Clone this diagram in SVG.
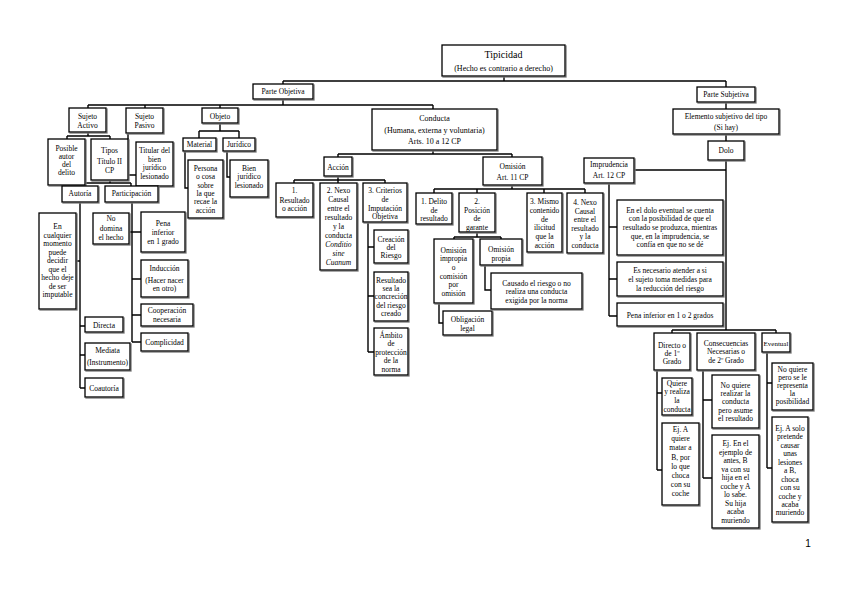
<svg xmlns="http://www.w3.org/2000/svg" width="848" height="599" viewBox="0 0 848 599">
<defs>
<filter id="sh" filterUnits="userSpaceOnUse" x="0" y="0" width="848" height="599"><feDropShadow dx="1" dy="1" stdDeviation="0.3" flood-color="#777"/></filter>
<style>
.b{fill:#fff;stroke:#000;stroke-width:1.3;filter:url(#sh)}
.t{font-family:"Liberation Serif","Times New Roman",serif;font-size:7.5px;text-anchor:middle;fill:#000}
.i{font-style:italic}
.c{fill:none;stroke:#000;stroke-width:1.4}
</style>
</defs>
<rect width="848" height="599" fill="#fff"/>
<g id="connectors" class="c">
<path d="M504,76V81M283,81H726M283,81V84M726,81V87"/>
<path d="M283,99V105M88,105H433M88,105V108M145,105V108M220,105V108M433,105V109"/>
<path d="M88,132V136M67,136H110M67,136V139M110,136V139"/>
<path d="M128,133V175H136"/>
<path d="M110,180V183M80,183H131M80,183V186M131,183V186"/>
<path d="M80,202V388M76,261H80M80,326H85M80,355H85M80,388H85"/>
<path d="M132,202V342M129,232H141M132,279H141M132,315H141M132,342H141"/>
<path d="M220,123V131M199,131H239M199,131V138M239,131V138"/>
<path d="M185,151V188H188M227,151V177H230"/>
<path d="M433,150V154M338,154H512M338,154V157M512,154V157"/>
<path d="M338,176V180M294,180H385M294,180V183M338,180V183M385,180V183"/>
<path d="M368,222V352M368,247H374M368,296H374M368,352H374"/>
<path d="M512,185V189M434,189H585M434,189V193M477,189V193M544,189V193M585,189V193"/>
<path d="M477,232V237M454,237H501M454,237V239M501,237V239"/>
<path d="M439,303V323H443M485,265V290H491"/>
<path d="M726,102V109M726,134V141"/>
<path d="M726,160V330M634,170H726M672,330H776M672,330V333M776,330V333"/>
<path d="M609,183V316M609,227H617M609,279H617M609,316H617"/>
<path d="M657,370V470M657,393H662M657,470H662"/>
<path d="M703,370V478M703,400H712M703,478H712"/>
<path d="M767,352V468M767,383H772M767,468H772"/>
</g>

<g id="tipicidad"><rect class="b" x="442" y="45" width="123" height="31"/>
<text class="t" x="503.5" y="57.5" style="font-size:10px">Tipicidad</text>
<text class="t" x="503.5" y="70.5" style="font-size:8px">(Hecho es contrario a derecho)</text></g>

<g id="parte-objetiva"><rect class="b" x="253" y="84" width="60" height="15"/>
<text class="t" x="283" y="94">Parte Objetiva</text></g>

<g id="parte-subjetiva"><rect class="b" x="697" y="87" width="58" height="15"/>
<text class="t" x="726" y="96.5">Parte Subjetiva</text></g>

<g id="elemento"><rect class="b" x="673" y="109" width="106" height="25"/>
<text class="t"><tspan x="726" y="119.3">Elemento subjetivo del tipo</tspan><tspan x="726" y="130">(Si hay)</tspan></text></g>

<g id="dolo"><rect class="b" x="708" y="141" width="36" height="19"/>
<text class="t" x="726" y="152.6">Dolo</text></g>

<g id="imprudencia"><rect class="b" x="584" y="158" width="50" height="25"/>
<text class="t"><tspan x="609" y="167">Imprudencia</tspan><tspan x="609" y="177.6">Art. 12 CP</tspan></text></g>

<g id="dolo-eventual-nota"><rect class="b" x="617" y="200" width="106" height="55"/>
<text class="t"><tspan x="670" y="212.6">En el dolo eventual se cuenta</tspan><tspan x="670" y="221.3">con la posibilidad de que el</tspan><tspan x="670" y="230">resultado se produzca, mientras</tspan><tspan x="670" y="238.7">que, en la imprudencia, se</tspan><tspan x="670" y="247.4">confía en que no se dé</tspan></text></g>

<g id="es-necesario"><rect class="b" x="617" y="262" width="106" height="34"/>
<text class="t"><tspan x="670" y="272.6">Es necesario atender a si</tspan><tspan x="670" y="281.6">el sujeto toma medidas para</tspan><tspan x="670" y="290.8">la reducción del riesgo</tspan></text></g>

<g id="pena-1-2"><rect class="b" x="617" y="303" width="106" height="23"/>
<text class="t" x="670" y="318.3">Pena inferior en 1 o 2 grados</text></g>

<g id="directo"><rect class="b" x="654" y="333" width="36" height="37"/>
<text class="t"><tspan x="672" y="347.6">Directo o</tspan><tspan x="672" y="356">de 1º</tspan><tspan x="672" y="364.3">Grado</tspan></text></g>

<g id="consecuencias"><rect class="b" x="697" y="333" width="58" height="37"/>
<text class="t"><tspan x="726" y="346">Consecuencias</tspan><tspan x="726" y="354.3">Necesarias o</tspan><tspan x="726" y="363.3">de 2º Grado</tspan></text></g>

<g id="eventual"><rect class="b" x="762" y="333" width="28" height="19"/>
<text class="t" x="776" y="346.4" style="font-size:7px">Eventual</text></g>

<g id="quiere"><rect class="b" x="662" y="378" width="30" height="37"/>
<text class="t"><tspan x="677" y="386">Quiere</tspan><tspan x="677" y="394.3">y realiza</tspan><tspan x="677" y="403.3">la</tspan><tspan x="677" y="412">conducta</tspan></text></g>

<g id="ej-a-quiere"><rect class="b" x="662" y="423" width="37" height="82"/>
<text class="t"><tspan x="680.5" y="432">Ej. A</tspan><tspan x="680.5" y="441.2">quiere</tspan><tspan x="680.5" y="450.4">matar a</tspan><tspan x="680.5" y="459.6">B, por</tspan><tspan x="680.5" y="468.8">lo que</tspan><tspan x="680.5" y="478">choca</tspan><tspan x="680.5" y="487.2">con su</tspan><tspan x="680.5" y="496.4">coche</tspan></text></g>

<g id="no-quiere-asume"><rect class="b" x="712" y="375" width="47" height="53"/>
<text class="t"><tspan x="735.5" y="387.6">No quiere</tspan><tspan x="735.5" y="395.9">realizar la</tspan><tspan x="735.5" y="404.2">conducta</tspan><tspan x="735.5" y="412.5">pero asume</tspan><tspan x="735.5" y="420.8">el resultado</tspan></text></g>

<g id="ej-en-el-ejemplo"><rect class="b" x="712" y="435" width="47" height="93"/>
<text class="t"><tspan x="735.5" y="446">Ej. En el</tspan><tspan x="735.5" y="454.5">ejemplo de</tspan><tspan x="735.5" y="463">antes, B</tspan><tspan x="735.5" y="471.5">va con su</tspan><tspan x="735.5" y="480">hija en el</tspan><tspan x="735.5" y="488.5">coche y A</tspan><tspan x="735.5" y="497">lo sabe.</tspan><tspan x="735.5" y="505.5">Su hija</tspan><tspan x="735.5" y="514">acaba</tspan><tspan x="735.5" y="522.5">muriendo</tspan></text></g>

<g id="no-quiere-representa"><rect class="b" x="772" y="363" width="41" height="47"/>
<text class="t"><tspan x="792.5" y="371.6">No quiere</tspan><tspan x="792.5" y="379.8">pero se le</tspan><tspan x="792.5" y="388">representa</tspan><tspan x="792.5" y="396.2">la</tspan><tspan x="792.5" y="404.4">posibilidad</tspan></text></g>

<g id="ej-a-solo"><rect class="b" x="772" y="417" width="36" height="105"/>
<text class="t"><tspan x="790" y="431">Ej. A solo</tspan><tspan x="790" y="439.4">pretende</tspan><tspan x="790" y="447.8">causar</tspan><tspan x="790" y="456.3">unas</tspan><tspan x="790" y="464.7">lesiones</tspan><tspan x="790" y="473.2">a B,</tspan><tspan x="790" y="481.6">choca</tspan><tspan x="790" y="490">con su</tspan><tspan x="790" y="498.5">coche y</tspan><tspan x="790" y="506.9">acaba</tspan><tspan x="790" y="515.4">muriendo</tspan></text></g>

<g id="sujeto-activo"><rect class="b" x="69" y="108" width="37" height="24"/>
<text class="t"><tspan x="87.5" y="118.6">Sujeto</tspan><tspan x="87.5" y="127.6">Activo</tspan></text></g>

<g id="sujeto-pasivo"><rect class="b" x="126" y="108" width="37" height="25"/>
<text class="t"><tspan x="144.5" y="118.6">Sujeto</tspan><tspan x="144.5" y="127.6">Pasivo</tspan></text></g>

<g id="posible-autor"><rect class="b" x="48" y="139" width="37" height="46"/>
<text class="t"><tspan x="66.5" y="151">Posible</tspan><tspan x="66.5" y="159">autor</tspan><tspan x="66.5" y="167.2">del</tspan><tspan x="66.5" y="175.3">delito</tspan></text></g>

<g id="tipos"><rect class="b" x="91" y="139" width="37" height="41"/>
<text class="t"><tspan x="109.5" y="152.6">Tipos</tspan><tspan x="109.5" y="164.3">Título II</tspan><tspan x="109.5" y="172.6">CP</tspan></text></g>

<g id="titular"><rect class="b" x="136" y="142" width="37" height="44"/>
<text class="t"><tspan x="154.5" y="153.3">Titular del</tspan><tspan x="154.5" y="161.7">bien</tspan><tspan x="154.5" y="170.1">jurídico</tspan><tspan x="154.5" y="178.5">lesionado</tspan></text></g>

<g id="autoria"><rect class="b" x="62" y="186" width="36" height="16"/>
<text class="t" x="80" y="196.4">Autoría</text></g>

<g id="participacion"><rect class="b" x="105" y="186" width="53" height="16"/>
<text class="t" x="131.5" y="196.4">Participación</text></g>

<g id="en-cualquier"><rect class="b" x="39" y="213" width="37" height="96"/>
<text class="t"><tspan x="57.5" y="229.3">En</tspan><tspan x="57.5" y="237.8">cualquier</tspan><tspan x="57.5" y="246.3">momento</tspan><tspan x="57.5" y="254.8">puede</tspan><tspan x="57.5" y="263.3">decidir</tspan><tspan x="57.5" y="271.8">que el</tspan><tspan x="57.5" y="280.3">hecho deje</tspan><tspan x="57.5" y="288.8">de ser</tspan><tspan x="57.5" y="297.3">imputable</tspan></text></g>

<g id="no-domina"><rect class="b" x="93" y="213" width="36" height="31"/>
<text class="t"><tspan x="111" y="221">No</tspan><tspan x="111" y="230.5">domina</tspan><tspan x="111" y="240">el hecho</tspan></text></g>

<g id="pena-1"><rect class="b" x="141" y="212" width="44" height="40"/>
<text class="t"><tspan x="163" y="226">Pena</tspan><tspan x="163" y="235">inferior</tspan><tspan x="163" y="244.3">en 1 grado</tspan></text></g>

<g id="induccion"><rect class="b" x="141" y="260" width="47" height="37"/>
<text class="t"><tspan x="164.5" y="271">Inducción</tspan><tspan x="164.5" y="282.5">(Hacer nacer</tspan><tspan x="164.5" y="291">en otro)</tspan></text></g>

<g id="cooperacion"><rect class="b" x="141" y="304" width="52" height="22"/>
<text class="t"><tspan x="167" y="312.6">Cooperación</tspan><tspan x="167" y="322">necesaria</tspan></text></g>

<g id="complicidad"><rect class="b" x="141" y="333" width="47" height="18"/>
<text class="t" x="164.5" y="345">Complicidad</text></g>

<g id="directa"><rect class="b" x="85" y="317" width="38" height="15"/>
<text class="t" x="104" y="328.2">Directa</text></g>

<g id="mediata"><rect class="b" x="85" y="343" width="45" height="27"/>
<text class="t"><tspan x="107.5" y="352.6">Mediata</tspan><tspan x="107.5" y="365">(Instrumento)</tspan></text></g>

<g id="coautoria"><rect class="b" x="85" y="378" width="38" height="19"/>
<text class="t" x="104" y="390.6">Coautoría</text></g>

<g id="objeto"><rect class="b" x="202" y="108" width="36" height="15"/>
<text class="t" x="220" y="118.6">Objeto</text></g>

<g id="material"><rect class="b" x="183" y="138" width="33" height="13"/>
<text class="t" x="199.5" y="147">Material</text></g>

<g id="juridico"><rect class="b" x="223" y="138" width="32" height="13"/>
<text class="t" x="239" y="147">Jurídico</text></g>

<g id="persona"><rect class="b" x="188" y="160" width="35" height="58"/>
<text class="t"><tspan x="205.5" y="171">Persona</tspan><tspan x="205.5" y="179.3">o cosa</tspan><tspan x="205.5" y="187.6">sobre</tspan><tspan x="205.5" y="195.9">la que</tspan><tspan x="205.5" y="204.2">recae la</tspan><tspan x="205.5" y="212.5">acción</tspan></text></g>

<g id="bien-juridico"><rect class="b" x="230" y="160" width="38" height="37"/>
<text class="t"><tspan x="249" y="171">Bien</tspan><tspan x="249" y="179.3">jurídico</tspan><tspan x="249" y="187.6">lesionado</tspan></text></g>

<g id="conducta"><rect class="b" x="372" y="109" width="125" height="41"/>
<text class="t" style="font-size:8px"><tspan x="434.5" y="121">Conducta</tspan><tspan x="434.5" y="132.6">(Humana, externa y voluntaria)</tspan><tspan x="434.5" y="144.3">Arts. 10 a 12 CP</tspan></text></g>

<g id="accion"><rect class="b" x="324" y="157" width="28" height="19"/>
<text class="t" x="338" y="170">Acción</text></g>

<g id="resultado-accion"><rect class="b" x="276" y="183" width="37" height="34"/>
<text class="t"><tspan x="294.5" y="192.6">1.</tspan><tspan x="294.5" y="202.6">Resultado</tspan><tspan x="294.5" y="211">o acción</tspan></text></g>

<g id="nexo-causal"><rect class="b" x="320" y="183" width="37" height="87"/>
<text class="t"><tspan x="338.5" y="192.6">2. Nexo</tspan><tspan x="338.5" y="201.6">Causal</tspan><tspan x="338.5" y="210.6">entre el</tspan><tspan x="338.5" y="219.6">resultado</tspan><tspan x="338.5" y="228.6">y la</tspan><tspan x="338.5" y="237.6">conducta</tspan><tspan class="i" x="338.5" y="246.6">Conditio</tspan><tspan class="i" x="338.5" y="255.6">sine</tspan><tspan class="i" x="338.5" y="264.6">Cuanum</tspan></text></g>

<g id="criterios"><rect class="b" x="363" y="183" width="44" height="39"/>
<text class="t"><tspan x="385" y="193.3">3. Criterios</tspan><tspan x="385" y="202">de</tspan><tspan x="385" y="211">Imputación</tspan><tspan x="385" y="219.3">Objetiva</tspan></text></g>

<g id="creacion"><rect class="b" x="374" y="230" width="34" height="33"/>
<text class="t"><tspan x="391" y="242.3">Creación</tspan><tspan x="391" y="250.3">del</tspan><tspan x="391" y="258.3">Riesgo</tspan></text></g>

<g id="resultado-sea"><rect class="b" x="374" y="272" width="34" height="49"/>
<text class="t"><tspan x="391" y="282.6">Resultado</tspan><tspan x="391" y="290.9">sea la</tspan><tspan x="391" y="299.2">concreción</tspan><tspan x="391" y="307.5">del riesgo</tspan><tspan x="391" y="315.8">creado</tspan></text></g>

<g id="ambito"><rect class="b" x="374" y="328" width="34" height="47"/>
<text class="t"><tspan x="391" y="337.6">Ámbito</tspan><tspan x="391" y="346.2">de</tspan><tspan x="391" y="354.8">protección</tspan><tspan x="391" y="363.4">de la</tspan><tspan x="391" y="372">norma</tspan></text></g>

<g id="omision"><rect class="b" x="483" y="157" width="59" height="28"/>
<text class="t"><tspan x="512.5" y="169.3">Omisión</tspan><tspan x="512.5" y="180">Art. 11 CP</tspan></text></g>

<g id="delito-resultado"><rect class="b" x="416" y="193" width="36" height="31"/>
<text class="t"><tspan x="434" y="204.3">1. Delito</tspan><tspan x="434" y="212.6">de</tspan><tspan x="434" y="221">resultado</tspan></text></g>

<g id="posicion-garante"><rect class="b" x="459" y="193" width="36" height="39"/>
<text class="t"><tspan x="477" y="204.3">2.</tspan><tspan x="477" y="212.8">Posición</tspan><tspan x="477" y="221.3">de</tspan><tspan x="477" y="229.8">garante</tspan></text></g>

<g id="mismo-contenido"><rect class="b" x="527" y="193" width="35" height="59"/>
<text class="t"><tspan x="544.5" y="204.3">3. Mismo</tspan><tspan x="544.5" y="213">contenido</tspan><tspan x="544.5" y="221.6">de</tspan><tspan x="544.5" y="230.3">ilicitud</tspan><tspan x="544.5" y="238.9">que la</tspan><tspan x="544.5" y="247.6">acción</tspan></text></g>

<g id="nexo-causal-omision"><rect class="b" x="567" y="193" width="36" height="60"/>
<text class="t"><tspan x="585" y="205.3">4. Nexo</tspan><tspan x="585" y="213.8">Causal</tspan><tspan x="585" y="222.3">entre el</tspan><tspan x="585" y="230.8">resultado</tspan><tspan x="585" y="239.3">y la</tspan><tspan x="585" y="247.8">conducta</tspan></text></g>

<g id="omision-impropia"><rect class="b" x="434" y="239" width="39" height="64"/>
<text class="t"><tspan x="453.5" y="252.6">Omisión</tspan><tspan x="453.5" y="261.3">impropia</tspan><tspan x="453.5" y="269.9">o</tspan><tspan x="453.5" y="278.6">comisión</tspan><tspan x="453.5" y="287.2">por</tspan><tspan x="453.5" y="295.9">omisión</tspan></text></g>

<g id="omision-propia"><rect class="b" x="480" y="239" width="42" height="26"/>
<text class="t"><tspan x="501" y="252">Omisión</tspan><tspan x="501" y="261">propia</tspan></text></g>

<g id="obligacion-legal"><rect class="b" x="443" y="311" width="49" height="24"/>
<text class="t"><tspan x="467.5" y="322">Obligación</tspan><tspan x="467.5" y="331">legal</tspan></text></g>

<g id="causado"><rect class="b" x="491" y="273" width="91" height="36"/>
<text class="t"><tspan x="536.5" y="286">Causado el riesgo o no</tspan><tspan x="536.5" y="294.3">realiza una conducta</tspan><tspan x="536.5" y="302.6">exigida por la norma</tspan></text></g>

<text x="808" y="547" style="font-family:'Liberation Sans',Arial,sans-serif;font-size:10px;text-anchor:middle">1</text>
</svg>
